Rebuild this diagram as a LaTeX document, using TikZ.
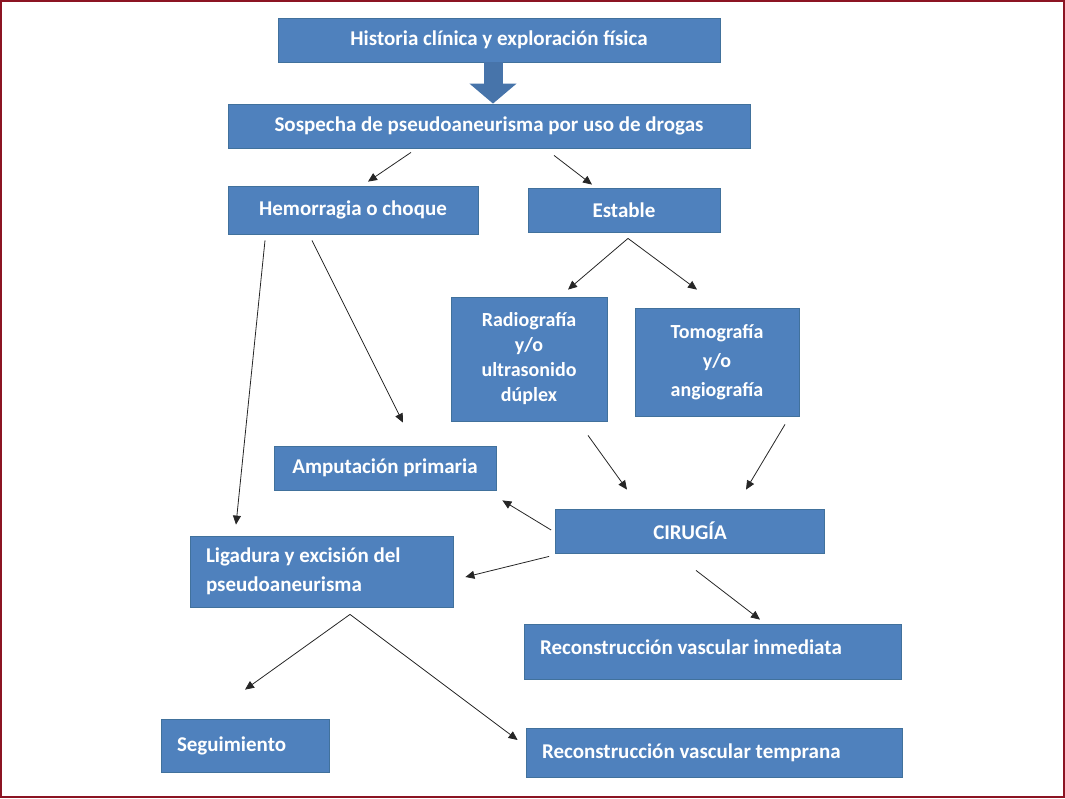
\documentclass[tikz,border=0pt]{standalone}
\usepackage{fontspec}
\setmainfont{Carlito}
\usepackage{tikz}
\usetikzlibrary{
    calc,
    arrows.meta,
    positioning
}
\definecolor{azulcaja}{HTML}{4F81BD}
\definecolor{azulborde}{HTML}{41719C}
\definecolor{marco}{HTML}{8C1423}
\tikzset{
    caja/.style={rectangle, fill=azulcaja, draw=azulborde, line width=0.8pt,
        text=white, inner sep=0pt, align=center,
        font=\bfseries\fontsize{21}{26}\selectfont},
    cajaizq/.style={caja, align=flush left, inner xsep=16pt},
    flecha/.style={-{Triangle[length=9pt,width=8pt]}, line width=0.8pt, black!85},
    flechagorda/.style={-{Triangle[length=20pt,width=46pt]}, line width=19pt, azulcaja!90!black}
}

\begin{document}
\begin{tikzpicture}[x=1pt,y=-1pt]
    \useasboundingbox (0,0) rectangle (1065,798);
    \draw[marco, line width=2pt] (1,1) rectangle (1064,797);
    % cajas
    \node[caja, minimum width=442pt, minimum height=44pt] (historia) at (499,40) {Historia clínica y exploración física};
    \node[caja, minimum width=522pt, minimum height=44pt] (sospecha) at (489,126) {Sospecha de pseudoaneurisma por uso de drogas};
    \node[caja, minimum width=250pt, minimum height=48pt] (hemorragia) at (353,210) {Hemorragia o choque};
    \node[caja, minimum width=192pt, minimum height=44pt] (estable) at (624,210) {Estable};
    \node[caja, minimum width=156pt, minimum height=124pt, font=\bfseries\fontsize{20}{25}\selectfont] (radiografia) at (529,359) {Radiografía\\y/o\\ultrasonido\\dúplex};
    \node[caja, minimum width=164pt, minimum height=108pt, font=\bfseries\fontsize{20}{29}\selectfont] (tomografia) at (717,362) {Tomografía\\y/o\\angiografía};
    \node[caja, minimum width=222pt, minimum height=44pt] (amputacion) at (385,468) {Amputación primaria};
    \node[caja, minimum width=269pt, minimum height=44pt] (cirugia) at (690,531) {CIRUGÍA};
    \node[cajaizq, text width=231pt, minimum height=71pt, font=\bfseries\fontsize{21}{29}\selectfont] (ligadura) at (321.5,571.5) {Ligadura y excisión del\\pseudoaneurisma};
    \node[cajaizq, text width=345pt, minimum height=55pt] (inmediata) at (712.5,651.5) {Reconstrucción vascular inmediata\vspace{8pt}};
    \node[cajaizq, text width=136pt, minimum height=53pt] (seguimiento) at (245,745.5) {Seguimiento};
    \node[cajaizq, text width=344pt, minimum height=49pt] (temprana) at (714,752.5) {Reconstrucción vascular temprana};
    % flechas
    \draw[flechagorda] ([xshift=-6pt]historia.south) -- ([xshift=-6pt]historia.south |- sospecha.north);
    \draw[flecha] ([xshift=-78pt,yshift=-4pt]sospecha.south) -- ([xshift=15pt,yshift=4pt]hemorragia.north);
    \draw[flecha] ([xshift=65pt,yshift=-7pt]sospecha.south) -- ([xshift=-32pt,yshift=3pt]estable.north);
    \draw[flecha] ([xshift=4pt,yshift=-6pt]estable.south) -- ([xshift=39pt,yshift=7pt]radiografia.north);
    \draw[flecha] ([xshift=4pt,yshift=-6pt]estable.south) -- ([xshift=-20pt,yshift=18pt]tomografia.north);
    \draw[flecha] ([xshift=-88pt,yshift=-6pt]hemorragia.south) -- ([xshift=-85.5pt,yshift=11pt]ligadura.north);
    \draw[flecha] ([xshift=-41pt,yshift=-6pt]hemorragia.south) -- ([xshift=18pt,yshift=23pt]amputacion.north);
    \draw[flecha] ([xshift=59pt,yshift=-14pt]radiografia.south) -- ([xshift=-63pt,yshift=19pt]cirugia.north);
    \draw[flecha] ([xshift=68pt,yshift=-8pt]tomografia.south) -- ([xshift=56pt,yshift=19pt]cirugia.north);
    \draw[flecha] ([xshift=-4pt,yshift=1pt]cirugia.west) -- ([xshift=6pt,yshift=-10pt]amputacion.south east);
    \draw[flecha] ([xshift=-6pt,yshift=-3pt]cirugia.south west) -- ([xshift=12pt,yshift=-5.5pt]ligadura.east);
    \draw[flecha] ([xshift=6pt,yshift=-17pt]cirugia.south) -- ([xshift=47.5pt,yshift=4pt]inmediata.north);
    \draw[flecha] ([xshift=28.5pt,yshift=-7pt]ligadura.south) -- ([yshift=29pt]seguimiento.north);
    \draw[flecha] ([xshift=28.5pt,yshift=-7pt]ligadura.south) -- ([xshift=-8pt,yshift=12.5pt]temprana.west);
\end{tikzpicture}
\end{document}
